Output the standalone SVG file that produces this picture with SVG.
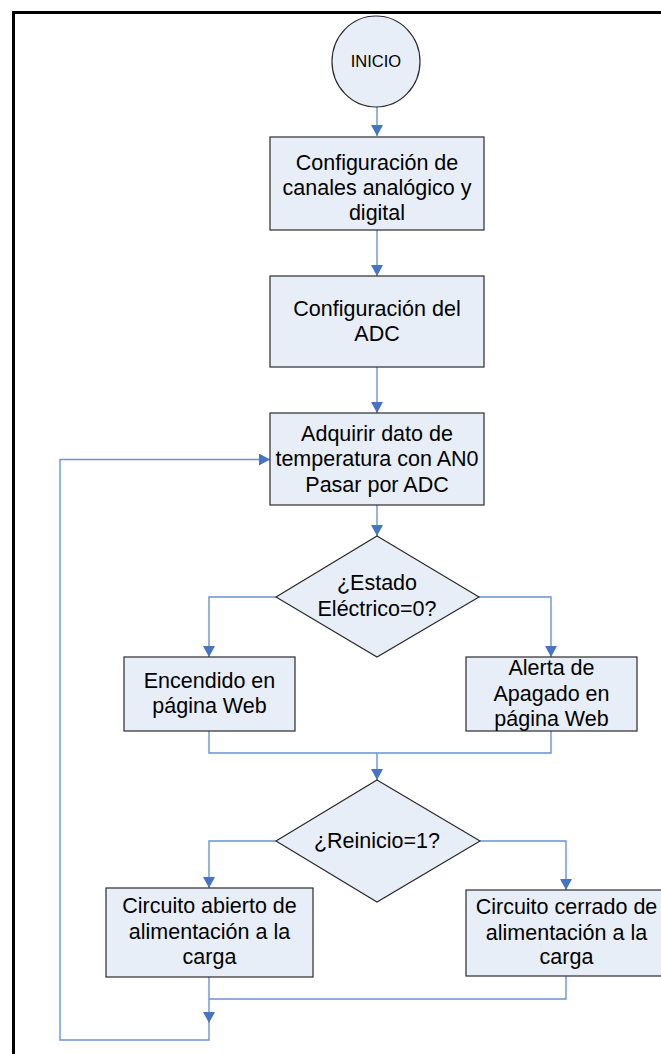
<svg xmlns="http://www.w3.org/2000/svg" width="661" height="1054" viewBox="0 0 661 1054">
  <style>
    .shape { fill: #e8eef8; stroke: #2b2b2b; stroke-width: 1.2; }
    .lbl { font-family: "Liberation Sans", Arial, sans-serif; font-size: 21.5px; fill: #000; text-anchor: middle; }
    .small { font-size: 16.5px; }
    .wire { fill: none; stroke: #6a93d4; stroke-width: 1.4; }
    .frame { fill: none; stroke: #000; stroke-width: 3; }
  </style>
  <defs>
    <marker id="arrow" markerUnits="userSpaceOnUse" markerWidth="12" markerHeight="12" refX="11" refY="6" orient="auto">
      <path d="M0,0 L11,6 L0,12 Z" fill="#4674c4"/>
    </marker>
  </defs>

  <rect width="661" height="1054" fill="#fff"/>
  <!-- outer page frame (left and top edges) -->
  <path class="frame" d="M13.5,1054 V12.5 H661"/>

  <!-- connectors -->
  <g id="connectors">
    <path class="wire" d="M377,107 V136" marker-end="url(#arrow)"/>
    <path class="wire" d="M377,230 V276" marker-end="url(#arrow)"/>
    <path class="wire" d="M377,367 V413" marker-end="url(#arrow)"/>
    <path class="wire" d="M377,505 V536" marker-end="url(#arrow)"/>
    <path class="wire" d="M276,597 H209 V657" marker-end="url(#arrow)"/>
    <path class="wire" d="M479,597 H551 V657" marker-end="url(#arrow)"/>
    <path class="wire" d="M209,731 V753 H551 V731"/>
    <path class="wire" d="M377,753 V780" marker-end="url(#arrow)"/>
    <path class="wire" d="M276,841 H209 V888" marker-end="url(#arrow)"/>
    <path class="wire" d="M480,841 H566 V890" marker-end="url(#arrow)"/>
    <path class="wire" d="M566,976 V999 H209"/>
    <path class="wire" d="M209,977 V1023" marker-end="url(#arrow)"/>
    <path class="wire" d="M209,1023 V1040 H60 V459.5 H270" marker-end="url(#arrow)"/>
  </g>

  <g id="inicio">
    <ellipse class="shape" cx="376" cy="61.5" rx="44" ry="45.5"/>
    <text class="lbl small" x="376" y="67">INICIO</text>
  </g>

  <g id="config-canales">
    <rect class="shape" x="270" y="137" width="214" height="93"/>
    <text class="lbl" x="377" y="170">Configuración de</text>
    <text class="lbl" x="377" y="195">canales analógico y</text>
    <text class="lbl" x="377" y="220">digital</text>
  </g>

  <g id="config-adc">
    <rect class="shape" x="270" y="276" width="214" height="91"/>
    <text class="lbl" x="377" y="315.5">Configuración del</text>
    <text class="lbl" x="377" y="340.5">ADC</text>
  </g>

  <g id="adquirir">
    <rect class="shape" x="270" y="413" width="214" height="92"/>
    <text class="lbl" x="377" y="440.5">Adquirir dato de</text>
    <text class="lbl" x="377" y="466">temperatura con AN0</text>
    <text class="lbl" x="377" y="491.5">Pasar por ADC</text>
  </g>

  <g id="estado">
    <polygon class="shape" points="377,536 479,597 377,657 276,597"/>
    <text class="lbl" x="377" y="590">¿Estado</text>
    <text class="lbl" x="377" y="616">Eléctrico=0?</text>
  </g>

  <g id="encendido">
    <rect class="shape" x="124" y="657" width="171" height="74"/>
    <text class="lbl" x="209.5" y="688">Encendido en</text>
    <text class="lbl" x="209.5" y="713">página Web</text>
  </g>

  <g id="alerta">
    <rect class="shape" x="466" y="657" width="171" height="74"/>
    <text class="lbl" x="551.5" y="675">Alerta de</text>
    <text class="lbl" x="551.5" y="701">Apagado en</text>
    <text class="lbl" x="551.5" y="726">página Web</text>
  </g>

  <g id="reinicio">
    <polygon class="shape" points="377,780 480,841 377,902 276,841"/>
    <text class="lbl" x="377" y="848">¿Reinicio=1?</text>
  </g>

  <g id="circuito-abierto">
    <rect class="shape" x="106" y="888" width="207" height="89"/>
    <text class="lbl" x="209.5" y="913">Circuito abierto de</text>
    <text class="lbl" x="209.5" y="939">alimentación a la</text>
    <text class="lbl" x="209.5" y="964">carga</text>
  </g>

  <g id="circuito-cerrado">
    <rect class="shape" x="466" y="890" width="201" height="86"/>
    <text class="lbl" x="566.5" y="914">Circuito cerrado de</text>
    <text class="lbl" x="566.5" y="940">alimentación a la</text>
    <text class="lbl" x="566.5" y="964">carga</text>
  </g>
</svg>
